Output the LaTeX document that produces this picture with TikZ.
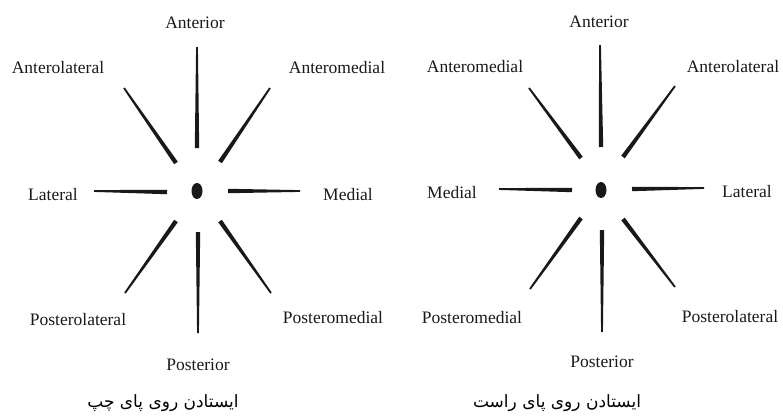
\documentclass[tikz,border=0pt]{standalone}
\usepackage{fontspec}
\setmainfont{Liberation Serif}
\newfontfamily\arabicfont[Script=Arabic]{DejaVu Sans}
\TeXXeTstate=1
\usetikzlibrary{calc}
\tikzset{
  lab/.style={font=\fontsize{17.5}{20}\selectfont, text=black!90, inner sep=0pt},
  caption/.style={font=\arabicfont\fontsize{17}{20}\selectfont, inner sep=0pt}
}
% tapered spoke: thick at the inner end, thin at the outer end
\newcommand{\spoke}[2]{%
  \fill[black!90] ($(#1)!2.2pt!90:(#2)$) -- ($(#2)!0.9pt!-90:(#1)$)
     -- ($(#2)!0.9pt!90:(#1)$) -- ($(#1)!2.2pt!-90:(#2)$) -- cycle;}
\begin{document}
\begin{tikzpicture}[x=1pt,y=-1pt]
  \useasboundingbox (0,0) rectangle (783,416);
  % left foot
  \fill[black!90] (197,191) ellipse (5.5pt and 8pt);
  \spoke{197,148}{197,47}
  \spoke{220,162}{270,88}
  \spoke{176,163}{124,88}
  \spoke{167,192}{94,191}
  \spoke{228,191}{300,191}
  \spoke{176,221}{125,293}
  \spoke{198,232}{198,333}
  \spoke{220,221}{271,293}
  \node[lab] (lAnt) at (195,23) {Anterior};
  \node[lab] (lAntLat) at (58,68) {Anterolateral};
  \node[lab] (lAntMed) at (337,68) {Anteromedial};
  \node[lab] (lLat) at (53,195) {Lateral};
  \node[lab] (lMed) at (348,195) {Medial};
  \node[lab] (lPostLat) at (78,320) {Posterolateral};
  \node[lab] (lPostMed) at (333,318) {Posteromedial};
  \node[lab] (lPost) at (198,365) {Posterior};
  \node[caption] (lCap) at (163,403) {\beginR ایستادن روی پای چپ\endR};
  % right foot
  \fill[black!90] (601,190) ellipse (5.5pt and 8pt);
  \spoke{601,147}{600,45}
  \spoke{581,158}{529,88}
  \spoke{623,157}{675,86}
  \spoke{572,190}{499,189}
  \spoke{632,189}{704,188}
  \spoke{581,218}{530,289}
  \spoke{602,230}{602,332}
  \spoke{623,219}{675,287}
  \node[lab] (rAnt) at (599,22) {Anterior};
  \node[lab] (rAntMed) at (475,67) {Anteromedial};
  \node[lab] (rAntLat) at (733,67) {Anterolateral};
  \node[lab] (rMed) at (452,193) {Medial};
  \node[lab] (rLat) at (747,192) {Lateral};
  \node[lab] (rPostMed) at (472,318) {Posteromedial};
  \node[lab] (rPostLat) at (730,317) {Posterolateral};
  \node[lab] (rPost) at (602,362) {Posterior};
  \node[caption] (rCap) at (557,403) {\beginR ایستادن روی پای راست\endR};
\end{tikzpicture}
\end{document}
